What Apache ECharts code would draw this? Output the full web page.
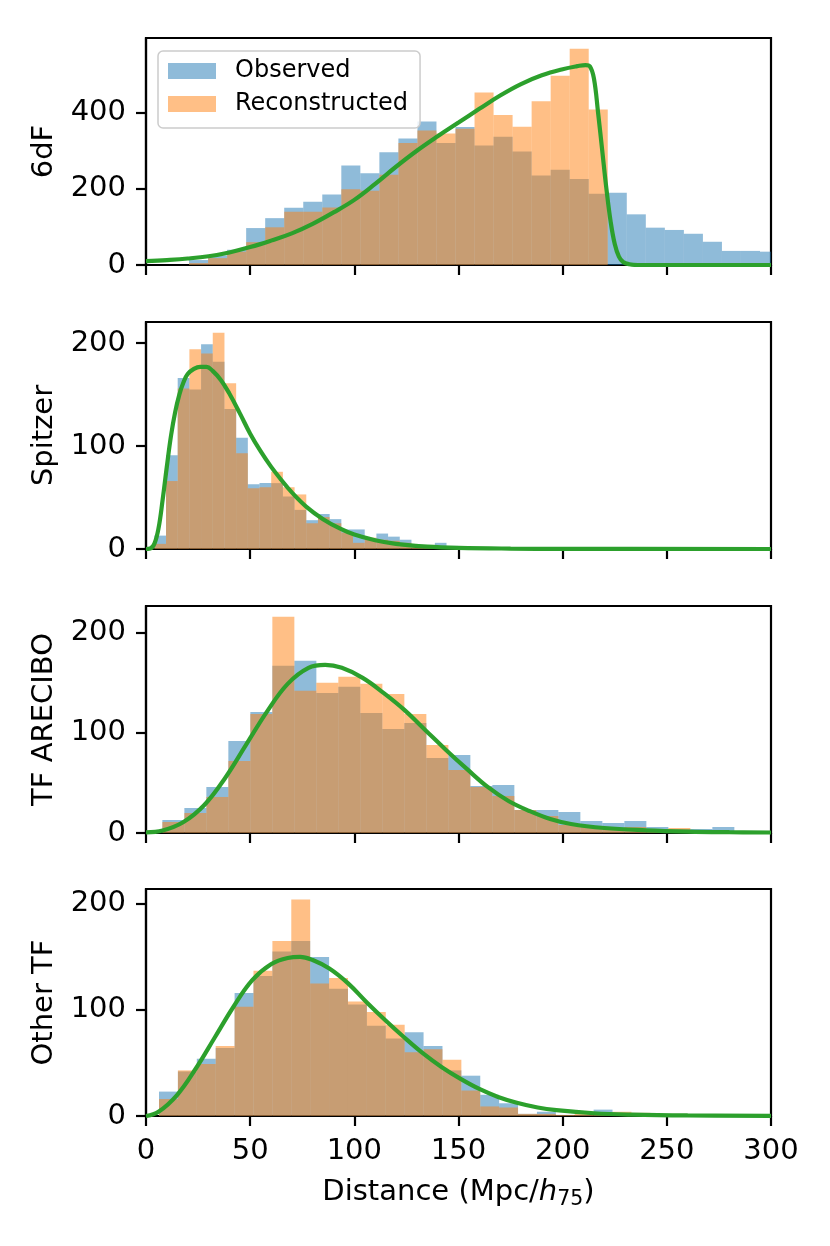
<!DOCTYPE html>
<html>
<head>
<meta charset="utf-8">
<script src="https://cdn.jsdelivr.net/npm/echarts@6/dist/echarts.min.js"></script>
<style>
  html, body { margin: 0; padding: 0; background: #fff; }
  #chart { width: 830px; height: 1246px; }
</style>
</head>
<body>
<div id="chart"></div>
<script>
// ---- data ----
var panelNames = ['6dF', 'Spitzer', 'TF ARECIBO', 'Other TF'];
var xTicks = [0, 50, 100, 150, 200, 250, 300];

// histogram bins: first edge and width per panel
var binStart = [20.67, 4.0, 7.85, 6.25];
var binWidth = [9.135, 5.61, 10.56, 9.07];

var observed6dF = [13, 25, 40, 97, 123, 150, 166, 185, 261, 241, 296, 332, 377, 320, 362, 314,
    337, 298, 235, 250, 226, 187, 190, 133, 98, 92, 82, 61, 37, 37, 35];
var reconstructed6dF = [5, 18, 35, 60, 99, 140, 140, 151, 199, 195, 237, 320, 353, 345, 358, 453,
    394, 363, 430, 497, 568, 408];
var model6dF = [[0, 10], [10, 13], [20, 17], [30, 23], [40, 33], [50, 47], [60, 64], [70, 83],
    [80, 108], [90, 138], [100, 171], [110, 213], [120, 258], [130, 300], [140, 338], [150, 374],
    [160, 410], [170, 445], [180, 475], [190, 498], [200, 514], [207, 522], [211, 525], [213, 522],
    [215, 490], [217, 400], [219, 300], [221, 200], [223, 115], [225, 55], [227, 22], [229, 8],
    [232, 2], [236, 0], [300, 0]];

var observedSpitzer = [13, 91, 166, 155, 199, 182, 136, 108, 63, 64, 64, 51, 38, 28, 34, 29, 19,
    19, 10, 15, 12, 9, 4, 3, 6, 3, 1, 1, 1];
var reconstructedSpitzer = [5, 66, 156, 194, 190, 210, 161, 93, 59, 60, 75, 60, 53, 25, 31, 25,
    16, 6, 11, 9, 8, 6, 2, 1, 1, 1, 1];
var modelSpitzer = [[0, 0], [2, 0.5], [4, 5], [6, 20], [8, 48], [10, 80], [12, 110], [14, 133],
    [16, 150], [18, 162], [20, 170], [23, 175], [26, 177], [29, 177], [32, 173], [36, 164],
    [40, 151], [45, 132], [50, 112], [55, 95], [60, 80], [65, 67], [70, 55], [77, 41], [85, 29],
    [93, 20], [100, 14], [110, 8.5], [120, 5], [135, 2.3], [150, 1.1], [175, 0.4], [200, 0.15],
    [300, 0]];

var observedArecibo = [13, 25, 46, 92, 121, 167, 172, 140, 146, 120, 104, 110, 75, 78, 47, 48, 23,
    23, 21, 12, 10, 12, 6, 4, 4, 6, 1];
var reconstructedArecibo = [11, 20, 36, 72, 119, 216, 142, 150, 156, 149, 139, 119, 88, 63, 46, 37,
    23, 17, 8, 6, 5, 6, 4, 5, 1, 0, 1];
var modelArecibo = [[0, 0.7], [8, 2.5], [18, 11], [28, 28], [38, 55], [48, 88], [58, 121],
    [68, 149], [78, 165], [86, 168], [94, 165], [104, 155], [114, 140], [124, 123], [134, 103],
    [144, 83], [154, 64], [164, 46], [174, 32], [184, 22], [194, 14], [204, 9], [220, 5],
    [240, 2.7], [260, 1.4], [280, 0.8], [300, 0.5]];

var observedOtherTF = [23, 42, 54, 64, 116, 132, 155, 165, 150, 120, 105, 85, 73, 79, 66, 43, 38,
    20, 12, 2, 4, 1, 1, 6, 2, 2, 1, 1];
var reconstructedOtherTF = [16, 43, 49, 66, 103, 137, 165, 204, 125, 130, 108, 98, 86, 60, 63, 53,
    24, 9, 8, 2, 2, 1, 2, 3, 4, 3, 1, 2, 1];
var modelOtherTF = [[0, 0], [6, 4], [15, 20], [24, 45], [33, 74], [42, 103], [51, 128], [60, 143],
    [68, 149], [74, 150], [80, 147], [88, 139], [97, 125], [106, 107], [115, 90], [124, 74],
    [133, 59], [142, 46], [151, 35], [160, 25.5], [169, 18], [178, 12.5], [188, 8], [197, 5.5],
    [215, 2.6], [233, 1.3], [260, 0.5], [300, 0.2]];

var yMax = [596, 220.5, 226.8, 214];
var yTicks = [[0, 200, 400], [0, 100, 200], [0, 100, 200], [0, 100, 200]];

var observed = [observed6dF, observedSpitzer, observedArecibo, observedOtherTF];
var reconstructed = [reconstructed6dF, reconstructedSpitzer, reconstructedArecibo, reconstructedOtherTF];
var models = [model6dF, modelSpitzer, modelArecibo, modelOtherTF];

// ---- chart ----
var FONT = 'DejaVu Sans';
var gridTops = [38, 322, 606, 889];

function toBins(counts, start, width) {
    var out = [];
    for (var i = 0; i < counts.length; i++) {
        out.push([start + i * width, start + (i + 1) * width, counts[i]]);
    }
    return out;
}

function renderBar(params, api) {
    var top = api.coord([api.value(0), api.value(2)]);
    var bottom = api.coord([api.value(1), 0]);
    return {
        type: 'rect',
        shape: { x: top[0], y: top[1], width: bottom[0] - top[0], height: bottom[1] - top[1] },
        style: api.style()
    };
}

var grids = [], xAxes = [], yAxes = [], series = [];

for (var p = 0; p < 4; p++) {
    grids.push({
        left: 146, right: 59, top: gridTops[p], height: 227,
        show: true, borderColor: '#000', borderWidth: 2.2, backgroundColor: 'transparent'
    });
    xAxes.push({
        type: 'value', gridIndex: p, min: 0, max: 300, interval: 50,
        axisLine: { show: true, onZero: false, lineStyle: { color: '#000', width: 2.2 } },
        axisTick: { show: true, length: 10, lineStyle: { color: '#000', width: 2.2 } },
        axisLabel: { show: p === 3, margin: 21, fontSize: 29, color: '#000', fontFamily: FONT },
        splitLine: { show: false },
        name: p === 3 ? '{a|Distance (Mpc/}{i|h}{s|75}{a|)}' : '',
        nameLocation: 'middle', nameGap: 58,
        nameTextStyle: {
            rich: {
                a: { fontSize: 29, fontFamily: FONT, color: '#000' },
                i: { fontSize: 29, fontFamily: FONT, fontStyle: 'italic', color: '#000' },
                s: { fontSize: 20.5, fontFamily: FONT, color: '#000', padding: [15, 0, 0, 0] }
            }
        }
    });
    yAxes.push({
        type: 'value', gridIndex: p, min: 0, max: yMax[p],
        axisLine: { show: true, lineStyle: { color: '#000', width: 2.2 } },
        axisTick: { show: true, length: 10, customValues: yTicks[p], lineStyle: { color: '#000', width: 2.2 } },
        axisLabel: { margin: 20, customValues: yTicks[p], fontSize: 29, color: '#000', fontFamily: FONT },
        splitLine: { show: false },
        name: panelNames[p], nameLocation: 'middle', nameGap: 87,
        nameTextStyle: { fontSize: 29, color: '#000', fontFamily: FONT }
    });
    series.push({
        name: 'Observed', type: 'custom', xAxisIndex: p, yAxisIndex: p, clip: true,
        renderItem: renderBar, encode: { x: [0, 1], y: 2 },
        itemStyle: { color: 'rgba(31,119,180,0.5)' },
        data: toBins(observed[p], binStart[p], binWidth[p]), z: 2
    });
    series.push({
        name: 'Reconstructed', type: 'custom', xAxisIndex: p, yAxisIndex: p, clip: true,
        renderItem: renderBar, encode: { x: [0, 1], y: 2 },
        itemStyle: { color: 'rgba(255,127,14,0.5)' },
        data: toBins(reconstructed[p], binStart[p], binWidth[p]), z: 3
    });
    series.push({
        name: 'model', type: 'line', xAxisIndex: p, yAxisIndex: p,
        data: models[p], showSymbol: false, smooth: 0.4,
        lineStyle: { color: '#2ca02c', width: 4.2 }, itemStyle: { color: '#2ca02c' }, z: 4
    });
}

var chart = echarts.init(document.getElementById('chart'), null, { renderer: 'canvas' });
chart.setOption({
    animation: false,
    backgroundColor: '#fff',
    grid: grids,
    xAxis: xAxes,
    yAxis: yAxes,
    legend: {
        data: [{ name: 'Observed', icon: 'rect' }, { name: 'Reconstructed', icon: 'rect' }],
        orient: 'vertical', left: 158, top: 51,
        itemWidth: 48, itemHeight: 16, itemGap: 9,
        padding: [8, 12, 12, 10],
        borderColor: '#cccccc', borderWidth: 1.5, borderRadius: 5,
        backgroundColor: 'rgba(255,255,255,0.8)',
        selectedMode: false,
        textStyle: { fontSize: 24, fontFamily: FONT, color: '#000', padding: [0, 0, 0, 14] }
    },
    series: series
});
</script>
</body>
</html>
